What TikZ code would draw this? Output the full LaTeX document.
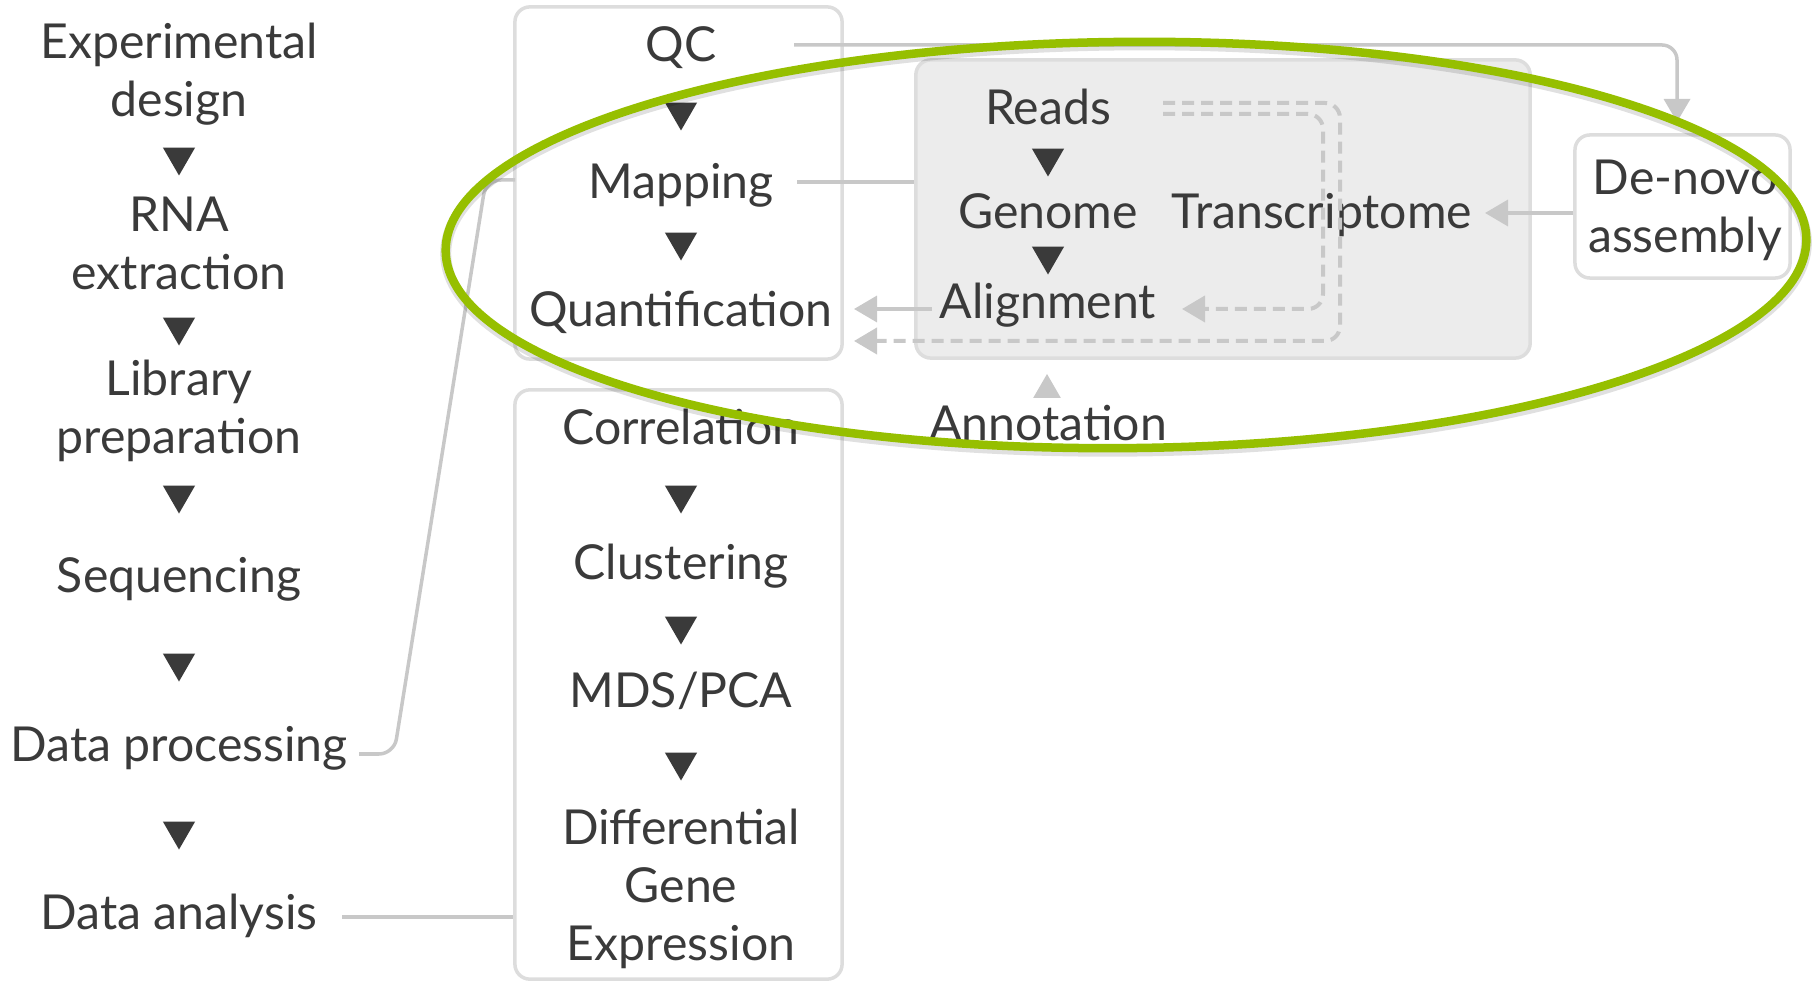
\documentclass[tikz,border=0pt]{standalone}
\usepackage{fontspec}
\setmainfont{Lato}
\usetikzlibrary{arrows.meta,shapes.geometric}
\definecolor{ink}{RGB}{58,58,58}
\definecolor{frame}{RGB}{221,221,221}
\definecolor{wire}{RGB}{200,200,200}
\definecolor{shade}{RGB}{236,236,236}
\definecolor{lime}{RGB}{150,191,0}
\tikzset{
  stage/.style={font=\fontsize{13.7}{16.5}\selectfont, text=ink, inner sep=0pt, align=center, anchor=base},
  panel/.style={draw=frame, line width=0.035cm, rounded corners=0.15cm, inner sep=0pt},
  down/.style={regular polygon, regular polygon sides=3, shape border rotate=180, fill=ink, inner sep=0pt, minimum size=0.37cm},
  up/.style={regular polygon, regular polygon sides=3, fill=wire, inner sep=0pt, minimum size=0.32cm},
  link/.style={draw=wire, line width=0.035cm, rounded corners=0.15cm},
  feed/.style={link, -{Triangle[length=0.23cm, width=0.26cm]}},
  hint/.style={feed, line width=0.04cm, dash pattern=on 0.12cm off 0.07cm}
}
\begin{document}
\begin{tikzpicture}[x=0.01cm, y=-0.01cm]
  \useasboundingbox (0,0) rectangle (1816,983);
  \node[panel, minimum width=3.27cm, minimum height=3.52cm] (procbox) at (678.5,183) {};
  \node[panel, minimum width=3.27cm, minimum height=5.89cm] (anbox) at (678.5,684.5) {};
  \node[panel, fill=shade, minimum width=6.14cm, minimum height=2.98cm] (refbox) at (1223,209) {};
  \node[panel, minimum width=2.15cm, minimum height=1.43cm] (denovobox) at (1682.5,206.5) {};

  \node[stage] (expdesign) at (179,116.5) {Experimental\\design};
  \node[down] (d1) at (179,157) {};
  \node[stage] (rna) at (179,289.5) {RNA\\extraction};
  \node[down] (d2) at (179,327) {};
  \node[stage] (libprep) at (179,453.5) {Library\\preparation};
  \node[down] (d3) at (179,495) {};
  \node[stage] (seq) at (179,592.5) {Sequencing};
  \node[down] (d4) at (179,663) {};
  \node[stage] (dataproc) at (179,761.5) {Data processing};
  \node[down] (d5) at (179,831) {};
  \node[stage] (dataan) at (179,929.5) {Data analysis};

  \node[stage] (qc) at (681,61.5) {QC};
  \node[down] (p1) at (681,112) {};
  \node[stage] (mapping) at (681,198.5) {Mapping};
  \node[down] (p2) at (681,242) {};
  \node[stage] (quant) at (681,326.5) {Quantification};

  \node[stage] (corr) at (681,444.5) {Correlation};
  \node[down] (a1) at (681,495) {};
  \node[stage] (clust) at (681,579.5) {Clustering};
  \node[down] (a2) at (681,626) {};
  \node[stage] (mds) at (681,707.5) {MDS/PCA};
  \node[down] (a3) at (681,762) {};
  \node[stage] (dge) at (681,960.5) {Differential\\Gene\\Expression};

  \node[stage] (reads) at (1048,124.5) {Reads};
  \node[down] (r1) at (1048,158) {};
  \node[stage] (genome) at (1048,228.5) {Genome};
  \node[down] (r2) at (1048,256) {};
  \node[stage] (align) at (1048,319) {Alignment};
  \node[stage] (transcr) at (1322,228.5) {Transcriptome};
  \node[up] (annotip) at (1047,390) {};
  \node[stage] (annot) at (1048,441) {Annotation};
  \node[stage] (denovo) at (1685,252.5) {De-novo\\assembly};

  \coordinate (qcout) at (794,45);
  \coordinate (denovoin) at (1677,122);
  \coordinate (mapout) at (797,182);
  \coordinate (procout) at (359,754);
  \coordinate (procin) at (515,180);
  \coordinate (anout) at (342,917);
  \coordinate (alout) at (932,309);
  \coordinate (quantin) at (854,309);
  \coordinate (quantin2) at (854,341);
  \coordinate (readsout) at (1163,103);
  \coordinate (readsout2) at (1163,114);
  \coordinate (alin) at (1182,309);
  \coordinate (txin) at (1485,213);

  \draw[feed] (qcout) -- (qcout -| denovoin) -- (denovoin);
  \draw[link] (mapout) -- (refbox.west |- mapout);
  \draw[link] (procout) -- (394,754) -- (486,180) -- (procin);
  \draw[link] (anout) -- (anbox.west |- anout);
  \draw[feed] (alout) -- (quantin);
  \draw[hint] (readsout) -- (1340,103) -- (1340,341) -- (quantin2);
  \draw[hint] (readsout2) -- (1323,114) -- (1323,309) -- (alin);
  \draw[feed] (denovobox.west |- txin) -- (txin);

  \draw[black, opacity=0.12, line width=0.11cm] (1126,248) ellipse [x radius=6.8cm, y radius=2.03cm, rotate=0.5];
  \draw[lime, line width=0.085cm] (1126,245) ellipse [x radius=6.8cm, y radius=2.03cm, rotate=0.5];
\end{tikzpicture}
\end{document}
